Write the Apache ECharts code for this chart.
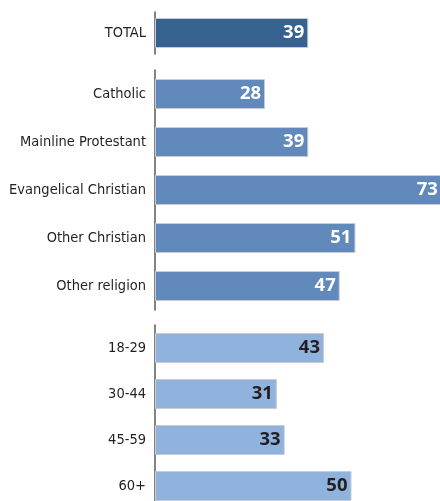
<!DOCTYPE html>
<html><head><meta charset="utf-8">
<script src="https://cdn.jsdelivr.net/npm/echarts@6/dist/echarts.min.js"></script>
<style>html,body{margin:0;padding:0;background:#fff}#c{width:440px;height:501px}</style>
</head><body><div id="c"></div>
<script>
const totalCats = ['TOTAL'];
const totalVals = [39];
const religionCats = ['Catholic', 'Mainline Protestant', 'Evangelical Christian', 'Other Christian', 'Other religion'];
const religionVals = [28, 39, 73, 51, 47];
const ageCats = ['18-29', '30-44', '45-59', '60+'];
const ageVals = [43, 31, 33, 50];

const catFont = { fontFamily: '"DejaVu Sans Condensed",serif', fontSize: 14.5, color: '#231f20' };
const valFont = { fontFamily: '"Open Sans",sans-serif', fontSize: 18.5, fontWeight: 'bold' };

const grids = [
  { left: 155, width: 393, top: 12, height: 42, outerBoundsMode: 'none', containLabel: false },
  { left: 155, width: 393, top: 70, height: 240, outerBoundsMode: 'none', containLabel: false },
  { left: 155, width: 393, top: 325, height: 184, outerBoundsMode: 'none', containLabel: false }
];
const cats = [totalCats, religionCats, ageCats];
const vals = [totalVals, religionVals, ageVals];
const colors = ['#35628e', '#6189bc', '#8fb3dd'];
const labelColors = ['#ffffff', '#ffffff', '#231f20'];

const option = {
  animation: false,
  grid: grids,
  xAxis: grids.map((g, i) => ({ type: 'value', gridIndex: i, min: 0, max: 100, show: false })),
  yAxis: grids.map((g, i) => ({
    type: 'category', gridIndex: i, data: cats[i], inverse: true,
    axisLine: { show: true, lineStyle: { color: '#58595b', width: 1.5 } },
    axisTick: { show: false },
    axisLabel: Object.assign({ margin: 9 }, catFont)
  })),
  series: vals.map((v, i) => ({
    type: 'bar', xAxisIndex: i, yAxisIndex: i, data: v, barWidth: 30,
    itemStyle: { color: colors[i], borderColor: '#c8ccd2', borderWidth: 1 },
    label: Object.assign({ show: true, position: 'insideRight', offset: [1, 0], color: labelColors[i] }, valFont)
  }))
};
echarts.init(document.getElementById('c')).setOption(option);
</script></body></html>
